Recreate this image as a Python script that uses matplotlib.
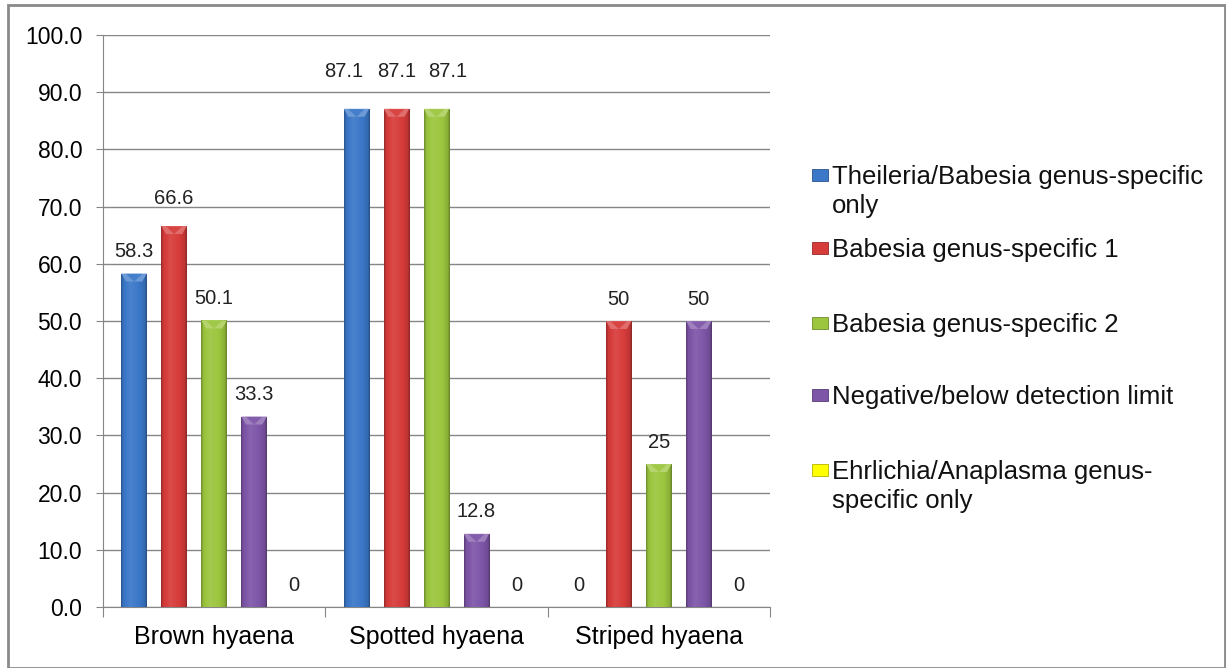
import numpy as np
import matplotlib
matplotlib.use('Agg')
import matplotlib.pyplot as plt
from matplotlib.colors import to_rgb
from matplotlib.patches import Rectangle, Polygon

plt.rcParams['font.family'] = ['Liberation Sans', 'DejaVu Sans']

categories = ['Brown hyaena', 'Spotted hyaena', 'Striped hyaena']
series = ['Theileria/Babesia genus-specific\nonly',
          'Babesia genus-specific 1',
          'Babesia genus-specific 2',
          'Negative/below detection limit',
          'Ehrlichia/Anaplasma genus-\nspecific only']
theileria = [58.3, 87.1, 0]
babesia1 = [66.6, 87.1, 50]
babesia2 = [50.1, 87.1, 25]
negative = [33.3, 12.8, 50]
ehrlichia = [0, 0, 0]
value_labels = [['58.3', '87.1', '0'],
                ['66.6', '87.1', '50'],
                ['50.1', '87.1', '25'],
                ['33.3', '12.8', '50'],
                ['0', '0', '0']]
colors = ['#3B78C8', '#D63C3A', '#9CC63E', '#7E56A8', '#FFFF00']
# nudges (points) for labels that were moved by hand in the original
label_lift = [[0, 11, 0], [4, 11, 0], [0, 11, 0], [0, 0, 0], [0, 0, 0]]
label_shift = [[0, -9, 0], [0, 0, 0], [0, 8, 0], [0, 0, 0], [0, 0, 0]]


def shade(c, f):
    c = np.array(to_rgb(c))
    if f >= 0:
        return c + (1 - c) * f
    return c * (1 + f)


def gradient_bar(ax, bar, color):
    x, y = bar.get_x(), bar.get_y()
    w, h = bar.get_width(), bar.get_height()
    if h <= 0:
        return
    t = np.linspace(0, 1, 64)
    f = np.interp(t, [0, 0.08, 0.35, 0.7, 0.92, 1], [-0.3, -0.05, 0.08, 0.0, -0.12, -0.35])
    row = np.array([shade(color, v) for v in f])
    img = np.repeat(row[None, :, :], 2, axis=0)
    im = ax.imshow(img, extent=[x, x + w, y, y + h], aspect='auto', zorder=3,
                   interpolation='bilinear')
    im.set_clip_path(bar)
    # bevelled top
    d = min(1.4, h)
    top = y + h
    ax.add_patch(Polygon([[x, top], [x + w, top], [x + w * 0.82, top - d],
                          [x + w * 0.18, top - d]], closed=True,
                         facecolor=shade(color, 0.25), edgecolor='none', zorder=4))
    ax.add_patch(Polygon([[x + w * 0.18, top - d * 0.05], [x + w * 0.82, top - d * 0.05],
                          [x + w / 2, top - d]], closed=True,
                         facecolor=shade(color, 0.05), edgecolor='none', zorder=4))


def main():
    fig = plt.figure(figsize=(12.26, 6.68), dpi=100)
    ax = fig.add_axes([0.084, 0.0913, 0.544, 0.8563])
    data = [theileria, babesia1, babesia2, negative, ehrlichia]
    xs = np.arange(len(categories)) + 0.5
    offsets = [-0.36, -0.18, 0, 0.18, 0.36]
    width = 0.114
    for i, vals in enumerate(data):
        bars = ax.bar(xs + offsets[i], vals, width, color=colors[i], zorder=2,
                      edgecolor='none')
        for j, (b, v, lab) in enumerate(zip(bars, vals, value_labels[i])):
            gradient_bar(ax, b, colors[i])
            ax.annotate(lab, (b.get_x() + b.get_width() / 2, v),
                        xytext=(label_shift[i][j], 9 + label_lift[i][j]),
                        textcoords='offset points', ha='center', va='bottom',
                        fontsize=14.5, color='#222222')
    ax.set_xlim(0, 3)
    ax.set_ylim(0, 100)
    ax.set_yticks(np.arange(0, 101, 10))
    ax.set_yticklabels(['{:.1f}'.format(v) for v in np.arange(0, 101, 10)])
    ax.set_xticks([0, 1, 2, 3])
    ax.set_xticklabels([])
    ax.set_xticks(xs, minor=True)
    ax.set_xticklabels(categories, minor=True)
    ax.tick_params(axis='x', which='minor', length=0, pad=13, labelsize=18)
    ax.tick_params(axis='x', which='major', length=7, color='#868686', direction='out')
    ax.tick_params(axis='y', length=5, color='#868686', pad=10, labelsize=16.5)
    ax.grid(axis='y', color='#868686', lw=1, zorder=0)
    ax.set_axisbelow(True)
    for s in ['top', 'right']:
        ax.spines[s].set_visible(False)
    for s in ['left', 'bottom']:
        ax.spines[s].set_color('#868686')

    # legend, laid out by hand to follow the spacing of the original
    ys = [0.738, 0.629, 0.516, 0.409, 0.296]
    for lab, c, yy in zip(series, colors, ys):
        fig.patches.append(Rectangle((0.6625, yy - 0.009), 0.0125, 0.018,
                                     transform=fig.transFigure, facecolor=c,
                                     edgecolor=shade(c, -0.3), lw=0.6))
        fig.text(0.6785, yy + 0.015, lab, transform=fig.transFigure, ha='left',
                 va='top', fontsize=18.5, linespacing=1.26, color='#111111')

    fig.patches.append(Rectangle((0.0065, 0.0), 0.993, 0.992, transform=fig.transFigure,
                                 facecolor='none', edgecolor='#8a8a8a', lw=2))
    fig.savefig('out.png', dpi=100)


if __name__ == '__main__':
    main()
